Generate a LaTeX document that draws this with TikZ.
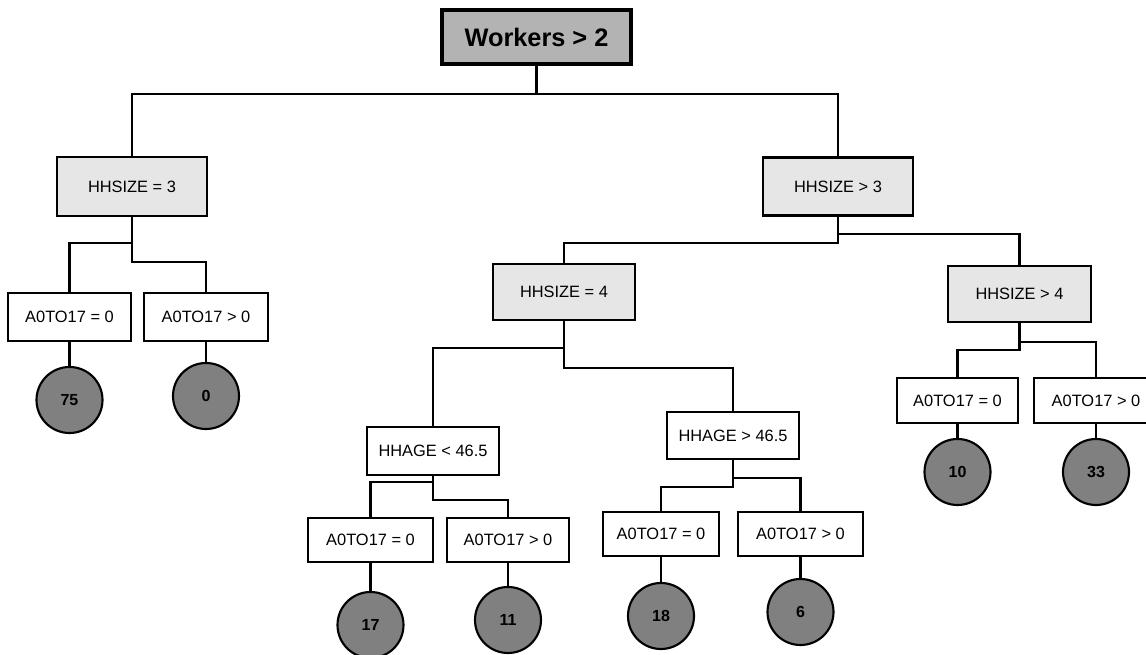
\documentclass[tikz,border=0pt]{standalone}
\usepackage{fontspec}
\setmainfont{Liberation Sans}
\definecolor{rootfill}{HTML}{B3B3B3}
\definecolor{splitfill}{HTML}{E6E6E6}
\definecolor{leaffill}{HTML}{808080}
\begin{document}
\begin{tikzpicture}[x=0.75pt,y=-0.75pt,
  size/.style 2 args={minimum width=#1*0.75pt,minimum height=#2*0.75pt},
  cond/.style={rectangle,draw=black,line width=1.6pt,fill=white,inner sep=0pt,
    font=\fontsize{12.3}{14}\selectfont},
  split/.style={cond,fill=splitfill},
  rootbox/.style={rectangle,draw=black,line width=3pt,fill=rootfill,inner sep=0pt,
    font=\fontsize{19}{22}\selectfont\bfseries},
  leaf/.style={circle,draw=black,line width=1.6pt,fill=leaffill,inner sep=0pt,
    minimum size=66*0.75pt,font=\fontsize{12}{14}\selectfont\bfseries},
  link/.style={draw=black,line width=1.7pt}]
\useasboundingbox (0,0) rectangle (1146,655);

% root and first split
\node[rootbox,size={189}{54}] (root) at (536.5,37) {Workers > 2};
\node[split,size={150}{59}] (h3)  at (132,186.5) {HHSIZE = 3};
\node[split,size={150}{58}] (hg3) at (838,186.5) {HHSIZE > 3};

% second level
\node[split,size={142}{56}] (h4)  at (564,292) {HHSIZE = 4};
\node[split,size={143}{56}] (hg4) at (1019.5,294) {HHSIZE > 4};
\node[cond,size={132}{48}] (ag1) at (433,451) {HHAGE < 46.5};
\node[cond,size={132}{47}] (ag2) at (733,435.5) {HHAGE > 46.5};

% A0TO17 splits
\node[cond,size={123}{48}] (a1) at (69.5,317) {A0TO17 = 0};
\node[cond,size={124}{48}] (a2) at (206,317) {A0TO17 > 0};
\node[cond,size={125}{44}] (b1) at (370.5,540) {A0TO17 = 0};
\node[cond,size={122}{44}] (b2) at (508,540) {A0TO17 > 0};
\node[cond,size={116}{44}] (c1) at (661,534) {A0TO17 = 0};
\node[cond,size={125}{44}] (c2) at (800.5,534) {A0TO17 > 0};
\node[cond,size={121}{45}] (d1) at (957.5,400.5) {A0TO17 = 0};
\node[cond,size={124}{45}] (d2) at (1096,400.5) {A0TO17 > 0};

% leaf counts
\node[leaf] (l1) at (69.5,400) {75};
\node[leaf] (l2) at (206,396) {0};
\node[leaf] (l3) at (370.5,625) {17};
\node[leaf] (l4) at (508,620) {11};
\node[leaf] (l5) at (661,616) {18};
\node[leaf] (l6) at (800.5,612) {6};
\node[leaf] (l7) at (957.5,472) {10};
\node[leaf] (l8) at (1096,472) {33};

% elbow connectors
\draw[link] (root.south) -- (root.south |- 0,94) -| (h3.north);
\draw[link] (root.south) -- (root.south |- 0,94) -| (hg3.north);
\draw[link] (h3.south) -- (h3.south |- 0,243) -| (a1.north);
\draw[link] (h3.south) -- (h3.south |- 0,262) -| (a2.north);
\draw[link] (hg3.south) -- (hg3.south |- 0,243) -| (h4.north);
\draw[link] (hg3.south) -- (hg3.south |- 0,234) -| (hg4.north);
\draw[link] (h4.south) -- (h4.south |- 0,348) -| (ag1.north);
\draw[link] (h4.south) -- (h4.south |- 0,368) -| (ag2.north);
\draw[link] (hg4.south) -- (hg4.south |- 0,350) -| (d1.north);
\draw[link] (hg4.south) -- (hg4.south |- 0,342) -| (d2.north);
\draw[link] (ag1.south) -- (ag1.south |- 0,482) -| (b1.north);
\draw[link] (ag1.south) -- (ag1.south |- 0,500) -| (b2.north);
\draw[link] (ag2.south) -- (ag2.south |- 0,487) -| (c1.north);
\draw[link] (ag2.south) -- (ag2.south |- 0,478) -| (c2.north);

% box to leaf
\foreach \b/\l in {a1/l1,a2/l2,b1/l3,b2/l4,c1/l5,c2/l6,d1/l7,d2/l8}
  \draw[link] (\b.south) -- (\l.north);
\end{tikzpicture}
\end{document}
